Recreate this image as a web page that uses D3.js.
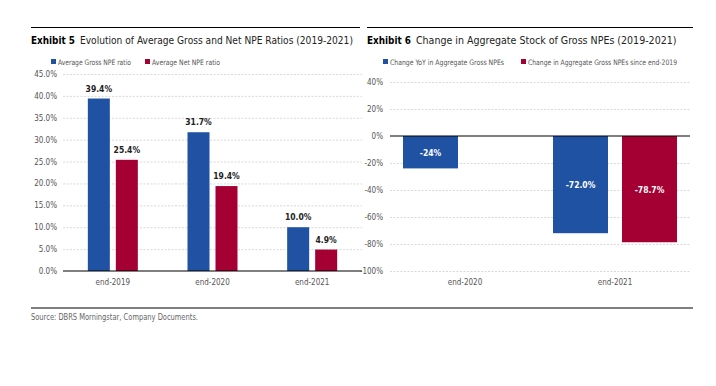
<!DOCTYPE html>
<html>
<head>
<meta charset="utf-8">
<script src="https://cdn.jsdelivr.net/npm/d3@7"></script>
<style>
  body { margin: 0; background: #fff; }
  svg { font-family: "DejaVu Sans Condensed", "Liberation Sans Narrow", sans-serif; font-stretch: condensed; }
  .grid line { stroke: #cfcfcf; stroke-dasharray: 2,1.5; stroke-width: 0.8; }
  .tick-label { fill: #555; font-size: 8px; }
  .cat-label { fill: #555; font-size: 8px; }
  .legend text { fill: #555; font-size: 7.5px; }
</style>
</head>
<body>
<svg id="chart" width="716" height="386"></svg>
<script>
// Exhibit 5 data
const years5 = ['end-2019', 'end-2020', 'end-2021'];
const grossRatio = [39.4, 31.7, 10.0];
const netRatio = [25.4, 19.4, 4.9];
const ticks5 = [0, 5, 10, 15, 20, 25, 30, 35, 40, 45];

// Exhibit 6 data
const years6 = ['end-2020', 'end-2021'];
const changeYoY = [-24, -72.0];
const changeSince2019 = [null, -78.7];
const labelsYoY = ['-24%', '-72.0%'];
const labelsSince = [null, '-78.7%'];
const ticks6 = [40, 20, 0, -20, -40, -60, -80, -100];

const blue = '#1f52a3';
const red = '#a50034';

const svg = d3.select('#chart');

// header & footer rules
svg.append('line').attr('x1', 31).attr('x2', 360).attr('y1', 27.5).attr('y2', 27.5)
    .attr('stroke', '#000').attr('stroke-width', 1.2);
svg.append('line').attr('x1', 367).attr('x2', 693).attr('y1', 27.5).attr('y2', 27.5)
    .attr('stroke', '#000').attr('stroke-width', 1.2);
svg.append('line').attr('x1', 31).attr('x2', 693).attr('y1', 308).attr('y2', 308)
    .attr('stroke', '#000').attr('stroke-width', 1.2);

svg.append('text').attr('x', 31).attr('y', 320)
    .attr('font-size', 8).attr('fill', '#666')
    .attr('textLength', 167).attr('lengthAdjust', 'spacingAndGlyphs')
    .text('Source: DBRS Morningstar, Company Documents.');

// shrink font size until the text fits the width it has in the original
function fitText(sel, size, w) {
    sel.attr('font-size', size);
    const len = sel.node().getComputedTextLength();
    if (len > w) sel.attr('font-size', size * w / len);
    return sel.node().getComputedTextLength();
}

function title(x, num, txt, w) {
    const a = svg.append('text').attr('x', x).attr('y', 43.5)
        .attr('font-weight', 'bold').attr('fill', '#000')
        .text('Exhibit ' + num);
    const wa = fitText(a, 11.5, 44);
    const b = svg.append('text').attr('x', x + wa + 5).attr('y', 43.5)
        .attr('fill', '#222')
        .text(txt);
    fitText(b, 11.5, w - wa - 5);
}
title(31, 5, 'Evolution of Average Gross and Net NPE Ratios (2019-2021)', 322);
title(367, 6, 'Change in Aggregate Stock of Gross NPEs (2019-2021)', 310);

function legend(items) {
    const g = svg.append('g').attr('class', 'legend');
    items.forEach(it => {
        g.append('rect').attr('x', it.x).attr('y', 59).attr('width', 5).attr('height', 5).attr('fill', it.color);
        g.append('text').attr('x', it.x + 7).attr('y', 64.5)
            .attr('textLength', it.w).attr('lengthAdjust', 'spacingAndGlyphs')
            .text(it.label);
    });
}
legend([
    { x: 51, color: blue, label: 'Average Gross NPE ratio', w: 73 },
    { x: 145, color: red, label: 'Average Net NPE ratio', w: 68 }
]);
legend([
    { x: 383, color: blue, label: 'Change YoY in Aggregate Gross NPEs', w: 114 },
    { x: 521, color: red, label: 'Change in Aggregate Gross NPEs since end-2019', w: 149 }
]);

// ---------- Exhibit 5 ----------
const x5 = d3.scaleBand().domain(years5).range([63, 362]);
const y5 = d3.scaleLinear().domain([0, 45]).range([271, 74]);

const grid5 = svg.append('g').attr('class', 'grid');
grid5.selectAll('line').data(ticks5.filter(d => d > 0)).join('line')
    .attr('x1', 63).attr('x2', 362)
    .attr('y1', d => y5(d) + 0.5).attr('y2', d => y5(d) + 0.5);

svg.append('g').selectAll('text').data(ticks5).join('text')
    .attr('class', 'tick-label')
    .attr('x', 57).attr('y', d => y5(d) + 3)
    .attr('text-anchor', 'end')
    .text(d => d.toFixed(1) + '%');

const bw5 = 22;
const series5 = [
    { vals: grossRatio, color: blue, off: -14 },
    { vals: netRatio, color: red, off: 14 }
];
series5.forEach(s => {
    const g = svg.append('g');
    const data = years5.map((yr, i) => ({ yr, v: s.vals[i] }));
    g.selectAll('rect').data(data).join('rect')
        .attr('x', d => x5(d.yr) + x5.bandwidth() / 2 + s.off - bw5 / 2)
        .attr('width', bw5)
        .attr('y', d => y5(d.v))
        .attr('height', d => y5(0) - y5(d.v))
        .attr('fill', s.color);
    g.selectAll('text').data(data).join('text')
        .attr('x', d => x5(d.yr) + x5.bandwidth() / 2 + s.off)
        .attr('y', d => y5(d.v) - 7)
        .attr('text-anchor', 'middle')
        .attr('font-size', 8.5).attr('font-weight', 'bold').attr('fill', '#222')
        .text(d => d.v.toFixed(1) + '%');
});

svg.append('line').attr('x1', 63).attr('x2', 362).attr('y1', y5(0)).attr('y2', y5(0))
    .attr('stroke', '#000').attr('stroke-width', 1.2);

svg.append('g').selectAll('text').data(years5).join('text')
    .attr('class', 'cat-label')
    .attr('x', d => x5(d) + x5.bandwidth() / 2)
    .attr('y', 285)
    .attr('text-anchor', 'middle')
    .text(d => d);

// ---------- Exhibit 6 ----------
const x6 = d3.scaleBand().domain(years6).range([390, 690]);
const y6 = d3.scaleLinear().domain([-100, 40]).range([271, 82]);

const grid6 = svg.append('g').attr('class', 'grid');
grid6.selectAll('line').data(ticks6.filter(d => d !== 0)).join('line')
    .attr('x1', 390).attr('x2', 690)
    .attr('y1', d => y6(d) + 0.5).attr('y2', d => y6(d) + 0.5);

svg.append('g').selectAll('text').data(ticks6).join('text')
    .attr('class', 'tick-label')
    .attr('x', 383).attr('y', d => y6(d) + 3)
    .attr('text-anchor', 'end')
    .text(d => d + '%');

const bw6 = 55;
const series6 = [
    { vals: changeYoY, labels: labelsYoY, color: blue, off: -34.5 },
    { vals: changeSince2019, labels: labelsSince, color: red, off: 34.5 }
];
series6.forEach(s => {
    const g = svg.append('g');
    const data = years6.map((yr, i) => ({ yr, v: s.vals[i], lab: s.labels[i] })).filter(d => d.v !== null);
    g.selectAll('rect').data(data).join('rect')
        .attr('x', d => x6(d.yr) + x6.bandwidth() / 2 + s.off - bw6 / 2)
        .attr('width', bw6)
        .attr('y', y6(0))
        .attr('height', d => y6(d.v) - y6(0))
        .attr('fill', s.color);
    g.selectAll('text').data(data).join('text')
        .attr('x', d => x6(d.yr) + x6.bandwidth() / 2 + s.off)
        .attr('y', d => (y6(0) + y6(d.v)) / 2 + 3.5)
        .attr('text-anchor', 'middle')
        .attr('font-size', 8.5).attr('font-weight', 'bold').attr('fill', '#fff')
        .text(d => d.lab);
});

svg.append('line').attr('x1', 390).attr('x2', 690).attr('y1', y6(0)).attr('y2', y6(0))
    .attr('stroke', '#000').attr('stroke-width', 1.2);

svg.append('g').selectAll('text').data(years6).join('text')
    .attr('class', 'cat-label')
    .attr('x', d => x6(d) + x6.bandwidth() / 2)
    .attr('y', 285)
    .attr('text-anchor', 'middle')
    .text(d => d);
</script>
</body>
</html>
